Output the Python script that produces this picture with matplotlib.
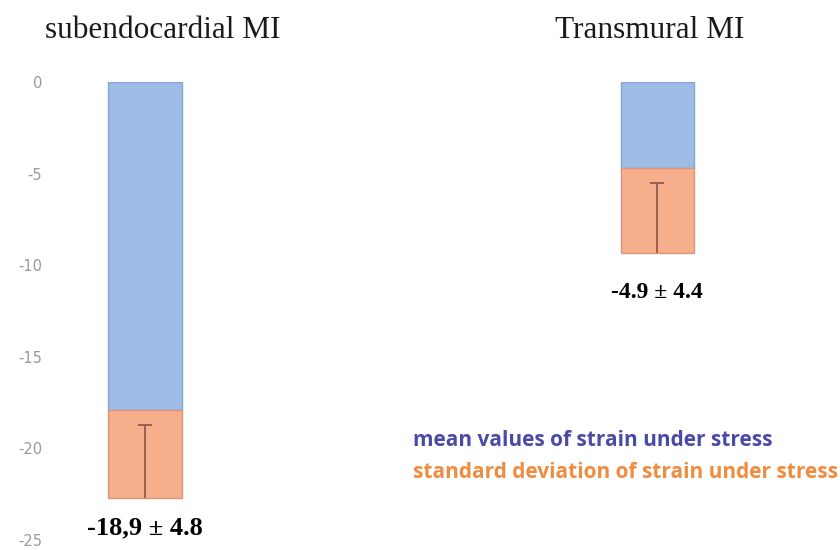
import matplotlib
matplotlib.use("Agg")
import matplotlib.pyplot as plt

# ---- data ----
categories = ["subendocardial MI", "Transmural MI"]
mean_vals = [-17.9, -4.7]          # blue segment (from 0 down)
sd_vals = [4.8, 4.65]              # orange segment stacked below
err_top = [-18.7, -5.5]            # top of the error whisker
value_labels = ["-18,9 ± 4.8", "-4.9 ± 4.4"]
yticks = [0, -5, -10, -15, -20, -25]
legend_texts = ["mean values of strain under stress",
                "standard deviation of strain under stress"]

blue = "#9dbde6"
blue_edge = "#86a6d0"
orange = "#f6ae8d"
orange_edge = "#d9957a"
err_col = "#8a5548"

W, H = 840, 550
fig = plt.figure(figsize=(W / 100, H / 100), dpi=100)
ax = fig.add_axes([60 / W, 10 / H, 780 / W, 458 / H])

x = list(range(len(categories)))
ax.bar(x, mean_vals, width=0.143, color=blue, edgecolor=blue_edge, linewidth=1)
ax.bar(x, [-s for s in sd_vals], bottom=mean_vals, width=0.143,
       color=orange, edgecolor=orange_edge, linewidth=1)

bottoms = [m - s for m, s in zip(mean_vals, sd_vals)]
for xi, b, t in zip(x, bottoms, err_top):
    ax.vlines(xi, b, t, color=err_col, linewidth=1.2)
    ax.plot([xi], [t], marker="_", markersize=10, color=err_col, mew=1.2)

ax.set_xlim(-0.166, 1.357)
ax.set_ylim(-25, 0)
ax.set_yticks(yticks)
ax.set_yticklabels([str(v) for v in yticks])
ax.tick_params(axis="y", length=0, pad=13, labelsize=10.5, labelcolor="#9a9a9a")
ax.set_xticks([])
for s in ax.spines.values():
    s.set_visible(False)

# value labels below bars (offset in pixels, font size in pt)
label_offsets = [30, 39]
label_sizes = [19, 17]
for xi, b, lab, off, fs in zip(x, bottoms, value_labels, label_offsets, label_sizes):
    ax.annotate(lab, (xi, b), xytext=(0, -off * 0.72), textcoords="offset points",
                ha="center", va="center", fontsize=fs, fontweight="bold",
                family="Liberation Serif", color="black", annotation_clip=False)

# titles
title_x = [163 / W, 650 / W]
for tx, cat in zip(title_x, categories):
    fig.text(tx, 1 - 30 / H, cat, ha="center", va="center", fontsize=22.5,
             family="Liberation Serif", color="#1a1a1a")

# legend-like text
fig.text(413 / W, 1 - 440 / H, legend_texts[0], ha="left", va="center",
         fontsize=15, fontweight="bold", family="Open Sans", color="#4b4aa6")
fig.text(413 / W, 1 - 473 / H, legend_texts[1], ha="left", va="center",
         fontsize=15, fontweight="bold", family="Open Sans", color="#ef8c3f")

fig.savefig("out.png", dpi=100)
